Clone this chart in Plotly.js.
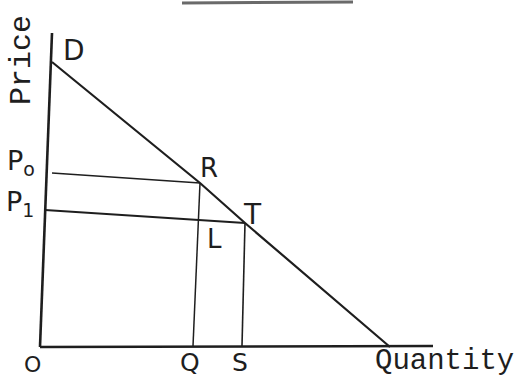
<!DOCTYPE html>
<html>
<head>
<meta charset="utf-8">
<script src="https://cdn.plot.ly/plotly-3.0.1.min.js"></script>
<style>html,body{margin:0;padding:0;background:#fff;}#chart{width:530px;height:377px;}</style>
</head>
<body>
<div id="chart"></div>
<script>
// Hand-drawn demand diagram (units: quantity / price, arbitrary)
const priceAxisX = [0, 1.2];
const priceAxisY = [0, 31.4];
const quantityAxisX = [0, 39.3];
const quantityAxisY = [0, 0.1];
const demandQ = [1.2, 16.0, 20.5, 35.0];
const demandP = [28.5, 16.4, 12.4, 0];
const p0LineQ = [1.2, 16.0];
const p0LineP = [17.4, 16.4];
const p1LineQ = [0.5, 20.5];
const p1LineP = [13.7, 12.4];
const qDropQ = [16.0, 15.3];
const qDropP = [16.4, 0.1];
const sDropQ = [20.5, 20.2];
const sDropP = [12.4, 0.1];
const titleRuleQ = [14.2, 31.3];
const titleRuleP = [34.4, 34.5];

const handLabels = ['D', 'R', 'T', 'L', 'P<sub>o</sub>', 'P<sub>1</sub>', 'O', 'Q', 'S'];
const handLabelQ = [3.4, 16.9, 21.2, 17.4, -1.9, -2.0, -0.8, 15.0, 20.0];
const handLabelP = [29.7, 17.9, 13.3, 10.8, 18.5, 14.4, -1.7, -1.5, -1.5];
const handLabelSize = [28, 26, 28, 26, 27, 27, 22, 25, 25];
const axisNames = ['Price', 'Quantity'];
const axisNameQ = [-1.8, 40.4];
const axisNameP = [28.7, -1.4];

const ink = '#1e1e1e';
function seg(x, y, w, c) {
  return {x: x, y: y, mode: 'lines', type: 'scatter', hoverinfo: 'skip',
          line: {color: c || ink, width: w}, showlegend: false};
}
const data = [
  seg(priceAxisX, priceAxisY, 2.6),
  seg(quantityAxisX, quantityAxisY, 2.4),
  seg(demandQ, demandP, 2.2),
  seg(p0LineQ, p0LineP, 1.6),
  seg(p1LineQ, p1LineP, 2.0),
  seg(qDropQ, qDropP, 1.5),
  seg(sDropQ, sDropP, 1.6),
  seg(titleRuleQ, titleRuleP, 3, '#6a6a6a')
];

const annotations = [];
handLabels.forEach((t, i) => {
  annotations.push({x: handLabelQ[i], y: handLabelP[i], text: t, showarrow: false,
    font: {family: 'DejaVu Sans', size: handLabelSize[i], color: ink}, xanchor: 'center', yanchor: 'middle'});
});
annotations.push({x: axisNameQ[0], y: axisNameP[0], text: axisNames[0], showarrow: false, textangle: -90,
  font: {family: 'Liberation Mono', size: 30, color: ink}, xanchor: 'center', yanchor: 'middle'});
annotations.push({x: axisNameQ[1], y: axisNameP[1], text: axisNames[1], showarrow: false,
  font: {family: 'Liberation Mono', size: 29, color: ink}, xanchor: 'center', yanchor: 'middle'});

const layout = {
  width: 530, height: 377,
  margin: {l: 0, r: 0, t: 0, b: 0},
  paper_bgcolor: '#ffffff', plot_bgcolor: '#ffffff',
  xaxis: {range: [-4.0, 49.0], visible: false, fixedrange: true},
  yaxis: {range: [-3.0, 34.7], visible: false, fixedrange: true},
  annotations: annotations,
  showlegend: false
};
Plotly.newPlot('chart', data, layout, {staticPlot: true, displayModeBar: false});
</script>
</body>
</html>
